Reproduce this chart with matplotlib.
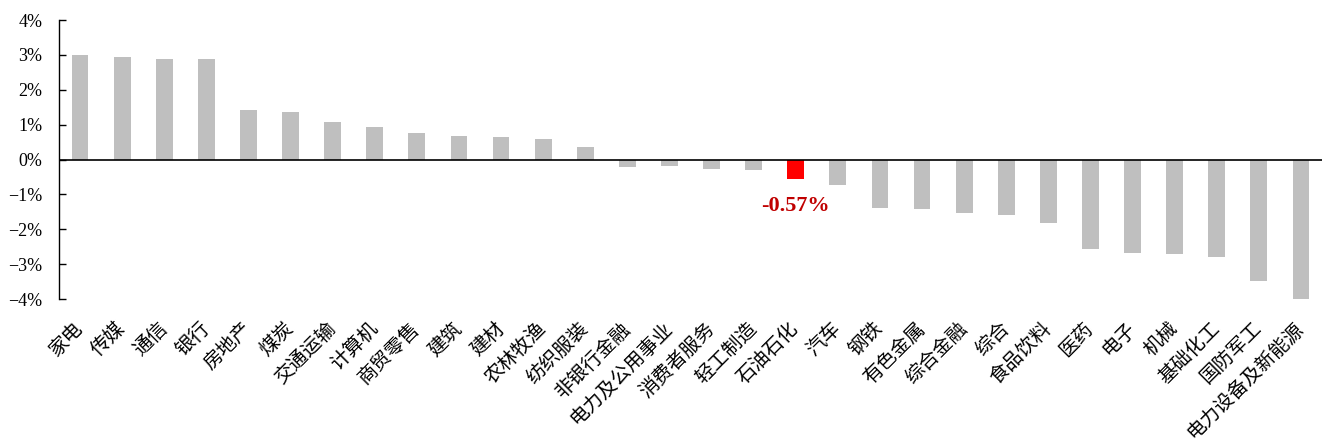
import matplotlib
matplotlib.use("Agg")
import matplotlib.pyplot as plt
from matplotlib.ticker import FuncFormatter

categories = ["家电", "传媒", "通信", "银行", "房地产", "煤炭", "交通运输", "计算机", "商贸零售",
              "建筑", "建材", "农林牧渔", "纺织服装", "非银行金融", "电力及公用事业", "消费者服务",
              "轻工制造", "石油石化", "汽车", "钢铁", "有色金属", "综合金融", "综合", "食品饮料",
              "医药", "电子", "机械", "基础化工", "国防军工", "电力设备及新能源"]
values = [2.99, 2.93, 2.89, 2.88, 1.42, 1.36, 1.08, 0.94, 0.77,
          0.66, 0.65, 0.60, 0.35, -0.22, -0.20, -0.27,
          -0.30, -0.57, -0.74, -1.39, -1.42, -1.53, -1.59, -1.81,
          -2.57, -2.68, -2.70, -2.79, -3.49, -3.99]
highlight = "石油石化"
yticks = [-4, -3, -2, -1, 0, 1, 2, 3, 4]

W, H = 1328, 448
fig = plt.figure(figsize=(W / 100, H / 100), dpi=100)
ax = fig.add_axes([59 / W, 1 - 299 / H, (1322 - 59) / W, (299 - 20) / H])

colors = ["#FF0000" if c == highlight else "#BFBFBF" for c in categories]
x = list(range(len(categories)))
ax.bar(x, values, width=0.4, color=colors, zorder=2)
ax.axhline(0, color="black", linewidth=1.2, zorder=3)

ax.set_xlim(-0.5, len(categories) - 0.5)
ax.set_ylim(-4, 4)
ax.set_yticks(yticks)
ax.yaxis.set_major_formatter(FuncFormatter(lambda v, p: f"{int(v)}%".replace("-", "\u2212")))

for s in ["top", "right", "bottom"]:
    ax.spines[s].set_visible(False)
ax.spines["left"].set_linewidth(1.0)
ax.tick_params(axis="y", direction="in", length=5, width=1.0, pad=12, labelsize=13)
for lab in ax.get_yticklabels():
    lab.set_fontfamily(["Liberation Serif", "DejaVu Serif"])

ax.set_xticks(x)
ax.set_xticklabels(categories, rotation=45, ha="right", va="center", rotation_mode="anchor",
                   fontsize=14, fontweight="light", family=["Noto Sans CJK SC", "DejaVu Sans"])
ax.tick_params(axis="x", length=0, pad=19)

i = categories.index(highlight)
ax.annotate(f"{values[i]:.2f}%", xy=(i, values[i]), xytext=(0, -19), textcoords="offset points",
            ha="center", va="center", color="#C00000", fontsize=16, fontweight="bold",
            family=["Liberation Serif", "DejaVu Serif"], zorder=4)

fig.savefig("out.png", dpi=100)
